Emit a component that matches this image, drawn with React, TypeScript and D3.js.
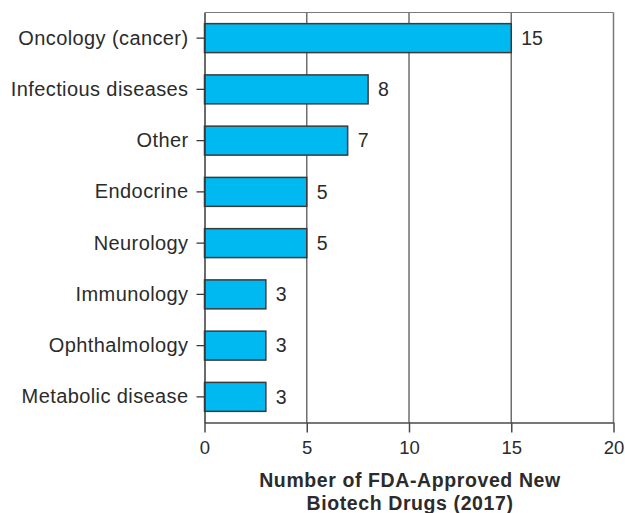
import { useEffect, useRef } from "react";
import * as d3 from "d3";

const categories = [
  "Oncology (cancer)",
  "Infectious diseases",
  "Other",
  "Endocrine",
  "Neurology",
  "Immunology",
  "Ophthalmology",
  "Metabolic disease",
];
const approvals = [15, 8, 7, 5, 5, 3, 3, 3];
const xTicks = [0, 5, 10, 15, 20];
const titleLines = ["Number of FDA-Approved New", "Biotech Drugs (2017)"];

const W = 625;
const H = 513;
const M = { top: 12.5, right: 11.5, bottom: 90.5, left: 204.5 };
const FONT = "'Liberation Sans', Arial, Helvetica, sans-serif";
const INK = "#2b2b2b";

export default function App() {
  const svgRef = useRef<SVGSVGElement>(null);

  useEffect(() => {
    const svg = d3.select(svgRef.current!);
    svg.selectAll("*").remove();

    const innerW = W - M.left - M.right;
    const innerH = H - M.top - M.bottom;

    const x = d3.scaleLinear().domain([0, 20]).range([0, innerW]);
    const y = d3.scaleBand<string>().domain(categories).range([0, innerH]).paddingInner(0.435).paddingOuter(0.2175);

    const g = svg.append("g").attr("transform", `translate(${M.left},${M.top})`);

    // frame: top + right in light grey
    g.append("line").attr("x1", 0).attr("x2", innerW).attr("y1", 0).attr("y2", 0)
      .attr("stroke", "#7a7a7a").attr("stroke-width", 1.2);
    g.append("line").attr("x1", innerW).attr("x2", innerW).attr("y1", 0).attr("y2", innerH)
      .attr("stroke", "#7a7a7a").attr("stroke-width", 1.5);

    // vertical grid
    g.append("g").selectAll("line")
      .data(xTicks.filter((t) => t > 0 && t < 20))
      .join("line")
      .attr("x1", (d) => x(d)).attr("x2", (d) => x(d))
      .attr("y1", 0).attr("y2", innerH)
      .attr("stroke", "#6e6e6e").attr("stroke-width", 1.5);

    // bars
    g.append("g").selectAll("rect")
      .data(categories)
      .join("rect")
      .attr("x", x(0))
      .attr("y", (d) => y(d)!)
      .attr("width", (_, i) => x(approvals[i]) - x(0))
      .attr("height", y.bandwidth())
      .attr("fill", "#00b9f0")
      .attr("stroke", "#3a3a3a")
      .attr("stroke-width", 1.5);

    // value labels
    g.append("g").selectAll("text")
      .data(categories)
      .join("text")
      .attr("x", (_, i) => x(approvals[i]) + 10)
      .attr("y", (d) => y(d)! + y.bandwidth() / 2)
      .attr("dy", "0.35em")
      .attr("fill", INK)
      .style("font-family", FONT)
      .style("font-size", "19.5px")
      .text((_, i) => String(approvals[i]));

    // x axis
    const xAxisG = g.append("g").attr("transform", `translate(0,${innerH})`)
      .call(d3.axisBottom(x).tickValues(xTicks).tickSize(10).tickPadding(8).tickSizeOuter(0));
    xAxisG.select(".domain").attr("stroke", "#4a4a4a").attr("stroke-width", 1.5);
    xAxisG.selectAll(".tick line").attr("stroke", "#4a4a4a").attr("stroke-width", 1.5);
    xAxisG.selectAll("text")
      .attr("fill", INK)
      .style("font-family", FONT)
      .style("font-size", "18.5px");

    // y axis
    const yAxisG = g.append("g")
      .call(d3.axisLeft(y).tickSize(8).tickPadding(8).tickSizeOuter(0));
    yAxisG.select(".domain").attr("stroke", "#3a3a3a").attr("stroke-width", 1.5);
    yAxisG.selectAll(".tick line").attr("stroke", "#3a3a3a").attr("stroke-width", 1.3);
    yAxisG.selectAll("text")
      .attr("fill", INK)
      .style("font-family", FONT)
      .style("font-size", "20px")
      .style("letter-spacing", "0.4px");

    // axis title
    svg.append("g").selectAll("text")
      .data(titleLines)
      .join("text")
      .attr("x", 410)
      .attr("y", (_, i) => 487 + i * 23)
      .attr("text-anchor", "middle")
      .attr("fill", INK)
      .style("font-family", FONT)
      .style("font-size", "19.5px")
      .style("font-weight", "bold")
      .style("letter-spacing", "0.6px")
      .text((d) => d);
  }, []);

  return (
    <svg
      ref={svgRef}
      width={W}
      height={H}
      viewBox={`0 0 ${W} ${H}`}
      style={{ position: "absolute", left: 0, top: 0, background: "#fff" }}
    />
  );
}
